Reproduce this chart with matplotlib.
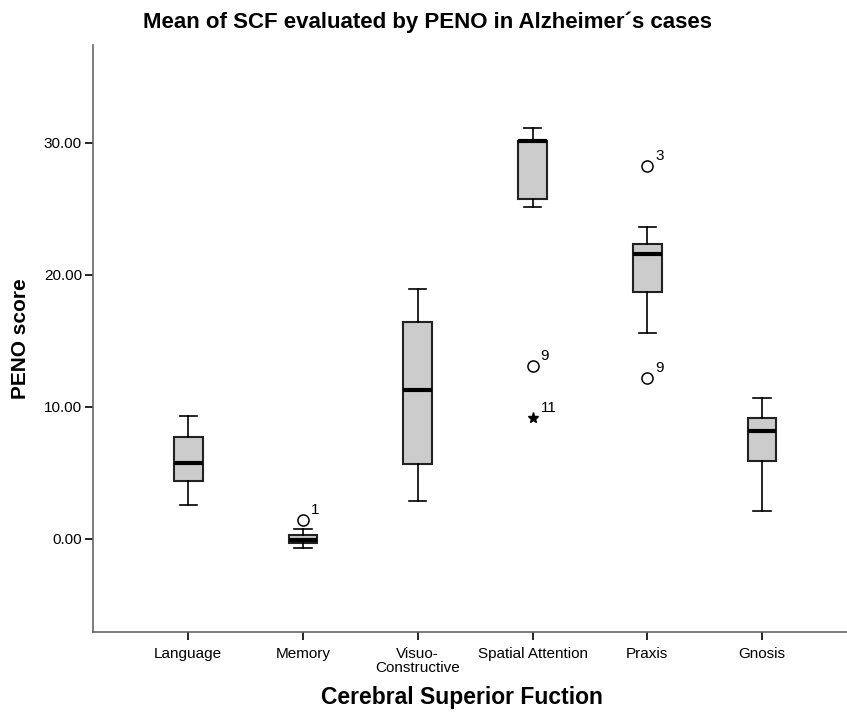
import matplotlib.pyplot as plt

plt.rcParams['font.family'] = ['Liberation Sans', 'DejaVu Sans']

# Box summaries read per function (PENO score)
functions = ['Language', 'Memory', 'Visuo-\nConstructive', 'Spatial Attention', 'Praxis', 'Gnosis']
whislo = [2.58, -0.71, 2.90, 25.1, 15.6, 2.14]
q1 = [4.42, -0.33, 5.68, 25.7, 18.66, 5.93]
med = [5.76, -0.08, 11.29, 30.15, 21.6, 8.18]
q3 = [7.70, 0.33, 16.39, 30.15, 22.35, 9.14]
whishi = [9.27, 0.78, 18.9, 31.1, 23.6, 10.66]

# outliers (circle) and extremes (star), with case numbers
out_pos = [2, 4, 5, 5]
out_val = [1.44, 13.1, 28.2, 12.17]
out_case = ['1', '9', '3', '9']
ext_pos = [4]
ext_val = [9.14]
ext_case = ['11']

stats = []
for i in range(len(functions)):
    stats.append(dict(whislo=whislo[i], q1=q1[i], med=med[i], q3=q3[i],
                      whishi=whishi[i], fliers=[], label=functions[i]))

fig = plt.figure(figsize=(8.47, 7.12), dpi=100)
ax = fig.add_axes([0.1098, 0.1124, 0.8902, 0.8244])

positions = list(range(1, len(functions) + 1))
ax.bxp(stats, positions=positions, widths=0.25, patch_artist=True,
       showfliers=False,
       boxprops=dict(facecolor='#cccccc', edgecolor='#222222', linewidth=1.5),
       medianprops=dict(color='black', linewidth=3),
       whiskerprops=dict(color='black', linewidth=1.2),
       capprops=dict(color='black', linewidth=1.2),
       capwidths=0.15)

ax.plot(out_pos, out_val, 'o', markersize=8, markerfacecolor='white',
        markeredgecolor='black', markeredgewidth=1.1, linestyle='none')
ax.plot(ext_pos, ext_val, '*', markersize=8, color='black', linestyle='none')
for x, y, s in zip(out_pos + ext_pos, out_val + ext_val, out_case + ext_case):
    ax.text(x + 0.07, y + 0.25, s, fontsize=11, ha='left', va='bottom')

ax.set_xlim(0.17, 6.74)
ax.set_ylim(-7.05, 37.4)
ax.set_yticks([0, 10, 20, 30])
ax.set_yticklabels(['0.00', '10.00', '20.00', '30.00'])
ax.set_xticks(positions)
ax.set_xticklabels(functions, linespacing=1.0)
ax.tick_params(axis='both', labelsize=11, direction='out', length=6,
               width=1.2, color='black')
ax.tick_params(axis='x', pad=5)
ax.tick_params(axis='y', pad=2)

for side in ['top', 'right']:
    ax.spines[side].set_visible(False)
for side in ['left', 'bottom']:
    ax.spines[side].set_color('#666666')
    ax.spines[side].set_linewidth(1.2)

ax.set_ylabel('PENO score', fontsize=15, fontweight='bold', labelpad=10)
fig.text(0.545, 0.004, 'Cerebral Superior Fuction', ha='center', va='bottom',
         fontsize=16.5, fontweight='bold')
fig.text(0.505, 0.969, 'Mean of SCF evaluated by PENO in Alzheimer\u00b4s cases',
         ha='center', va='center', fontsize=16, fontweight='bold')

fig.savefig('out.png', dpi=100)
